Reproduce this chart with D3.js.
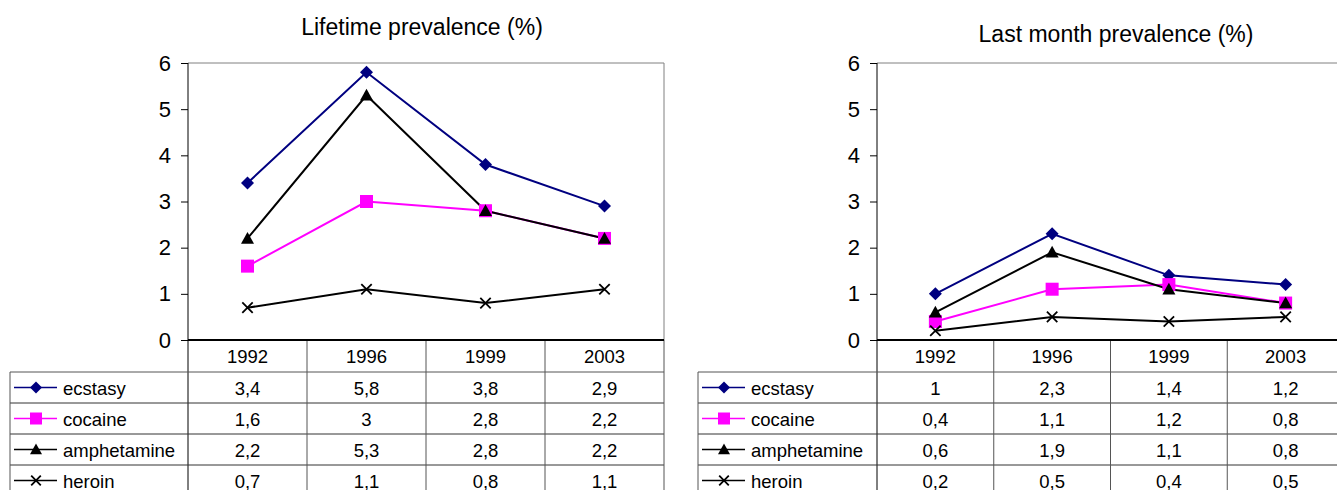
<!DOCTYPE html>
<html>
<head>
<meta charset="utf-8">
<script src="https://cdn.jsdelivr.net/npm/d3@7"></script>
<style>
  body { margin: 0; background: #fff; }
  svg { display: block; font-family: "Liberation Sans", Arial, sans-serif; }
</style>
</head>
<body>
<svg id="chart" width="1337" height="490"></svg>
<script>
// data
const years = ['1992', '1996', '1999', '2003']
const drugs = ['ecstasy', 'cocaine', 'amphetamine', 'heroin']
const yTicks = [0, 1, 2, 3, 4, 5, 6]

const lifetime = [
    [3.4, 5.8, 3.8, 2.9],   // ecstasy
    [1.6, 3.0, 2.8, 2.2],   // cocaine
    [2.2, 5.3, 2.8, 2.2],   // amphetamine
    [0.7, 1.1, 0.8, 1.1]    // heroin
]
const lastMonth = [
    [1.0, 2.3, 1.4, 1.2],
    [0.4, 1.1, 1.2, 0.8],
    [0.6, 1.9, 1.1, 0.8],
    [0.2, 0.5, 0.4, 0.5]
]

const colors = ['#000080', '#ff00ff', '#000000', '#000000']
const symbols = ['diamond', 'square', 'triangle', 'cross']

const svg = d3.select('#chart')

const fmt = v => String(v).replace('.', ',')

// draws one marker centred on (0,0) into a g
const marker = (g, type, color, s) => {
    if (type === 'diamond') {
        g.append('path').attr('d', `M0,${-s}L${s},0L0,${s}L${-s},0Z`).attr('fill', color)
    } else if (type === 'square') {
        g.append('rect').attr('x', -s).attr('y', -s).attr('width', 2*s).attr('height', 2*s).attr('fill', color)
    } else if (type === 'triangle') {
        g.append('path').attr('d', `M0,${-s}L${s},${s*0.8}L${-s},${s*0.8}Z`).attr('fill', color)
    } else {
        const c = s*0.8
        g.append('path').attr('d', `M${-c},${-c}L${c},${c}M${-c},${c}L${c},${-c}`)
            .attr('stroke', color).attr('stroke-width', 1.8).attr('fill', 'none')
    }
}

const panel = (o) => {
    const g = svg.append('g')

    const x = d3.scaleBand().domain(years).range([o.x0, o.x1])
    const y = d3.scaleLinear().domain([0, 6]).range([340, 63])

    // title
    g.append('text')
        .attr('x', o.titleX).attr('y', o.titleY)
        .attr('text-anchor', 'middle')
        .style('font-size', '23px')
        .text(o.title)

    // plot frame (top and right grey)
    g.append('path')
        .attr('d', `M${o.x0},63H${o.x1}V340`)
        .attr('stroke', '#808080').attr('fill', 'none')

    // y axis
    const yAxis = d3.axisLeft(y).tickValues(yTicks).tickFormat(d3.format('d'))
        .tickSize(7).tickPadding(10)
    const ya = g.append('g').attr('transform', `translate(${o.x0},0)`).call(yAxis)
    ya.select('.domain').remove()
    ya.selectAll('.tick line').attr('stroke', '#000')
    ya.selectAll('.tick text').style('font-size', '22px').attr('fill', '#000')
        .style('font-family', '"Liberation Sans", Arial, sans-serif')

    // vertical axis line runs through the data table
    g.append('line').attr('x1', o.x0).attr('x2', o.x0).attr('y1', 63).attr('y2', 496)
        .attr('stroke', '#000')

    // table
    const rowH = 31
    const top = 372
    const rowsY = drugs.map((d, i) => top + i * rowH)

    rowsY.forEach((ry, i) => {
        g.append('line')
            .attr('x1', o.legendX).attr('x2', o.x1)
            .attr('y1', ry).attr('y2', ry)
            .attr('stroke', i === 0 ? '#555' : '#333')
    })
    g.append('line').attr('x1', o.legendX).attr('x2', o.legendX)
        .attr('y1', top).attr('y2', 496).attr('stroke', '#555')
    years.forEach(yr => {
        const bx = x(yr) + x.bandwidth()
        g.append('line').attr('x1', bx).attr('x2', bx)
            .attr('y1', 340).attr('y2', 496).attr('stroke', '#555')
    })

    // header years
    g.selectAll('.yr').data(years).enter().append('text')
        .attr('x', d => x(d) + x.bandwidth() / 2)
        .attr('y', 363)
        .attr('text-anchor', 'middle')
        .style('font-size', '18.5px')
        .text(d => d)

    // value rows + legend keys
    drugs.forEach((drug, i) => {
        const cy = rowsY[i] + rowH / 2
        const vals = o.values[i]

        vals.forEach((v, j) => {
            g.append('text')
                .attr('x', x(years[j]) + x.bandwidth() / 2)
                .attr('y', cy + 7)
                .attr('text-anchor', 'middle')
                .style('font-size', '18.5px')
                .text(fmt(v))
        })

        const lx = o.legendX + 4
        g.append('line').attr('x1', lx).attr('x2', lx + 43)
            .attr('y1', cy).attr('y2', cy)
            .attr('stroke', colors[i]).attr('stroke-width', 1.5)
        marker(g.append('g').attr('transform', `translate(${lx + 22},${cy})`), symbols[i], colors[i], 6)
        g.append('text')
            .attr('x', lx + 49).attr('y', cy + 7)
            .style('font-size', '18.5px')
            .text(drug)
    })

    // bottom axis line
    g.append('line').attr('x1', o.x0).attr('x2', o.x1).attr('y1', 340).attr('y2', 340)
        .attr('stroke', '#000').attr('stroke-width', 2)

    // series lines
    const line = d3.line()
        .x((d, j) => x(years[j]) + x.bandwidth() / 2)
        .y(d => y(d))

    drugs.forEach((drug, i) => {
        g.append('path')
            .datum(o.values[i])
            .attr('d', line)
            .attr('fill', 'none')
            .attr('stroke', colors[i])
            .attr('stroke-width', 2)
    })
    drugs.forEach((drug, i) => {
        o.values[i].forEach((v, j) => {
            marker(g.append('g').attr('transform', `translate(${x(years[j]) + x.bandwidth() / 2},${y(v)})`),
                symbols[i], colors[i], 6.5)
        })
    })
}

panel({
    x0: 188, x1: 664, legendX: 10,
    title: 'Lifetime prevalence (%)', titleX: 422, titleY: 35,
    values: lifetime
})

panel({
    x0: 877, x1: 1344, legendX: 698,
    title: 'Last month prevalence (%)', titleX: 1116, titleY: 42,
    values: lastMonth
})
</script>
</body>
</html>
